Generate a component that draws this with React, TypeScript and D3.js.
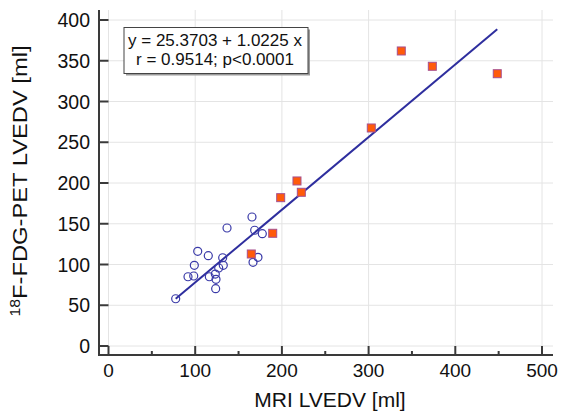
import React from "react";
import * as d3 from "d3";

// Data
const circleX = [77.5, 91.7, 98.3, 99.0, 102.9, 115.1, 116.3, 123.2, 124.0, 123.6, 127.1, 132.4, 131.7, 136.7, 165.5, 168.6, 177.4, 172.4, 166.7];
const circleY = [58.0, 85.0, 85.9, 99.0, 116.2, 110.8, 85.0, 88.3, 81.8, 70.3, 95.7, 99.0, 108.3, 144.8, 158.3, 142.0, 137.8, 108.8, 102.7];
const squareX = [164.7, 189.4, 198.6, 217.4, 222.4, 303.1, 337.7, 373.5, 448.4];
const squareY = [112.9, 138.3, 182.0, 202.5, 188.6, 267.5, 362.0, 343.2, 334.1];
const fitX = [77.5, 448.4];
const fitY = [58.0, 388.6];
const xTicks = [0, 100, 200, 300, 400, 500];
const xMinorTicks = [50, 150, 250, 350, 450];
const yTicks = [0, 50, 100, 150, 200, 250, 300, 350, 400];
const legendLines = ["y = 25.3703 + 1.0225 x", "r = 0.9514; p<0.0001"];
const xTitle = "MRI LVEDV [ml]";
const yTitleSup = "18";
const yTitleMain = "F-FDG-PET LVEDV [ml]";

const W = 561;
const H = 412;
const FONT = "'Liberation Sans', Arial, Helvetica, sans-serif";

export default function App() {
  const x = d3.scaleLinear().domain([0, 500]).range([108.5, 542]);
  const y = d3.scaleLinear().domain([0, 400]).range([346, 20]);
  const axisX = 99; // y axis line position
  const axisY = 355; // x axis line position
  const gridRight = 553;
  const gridTop = 10;
  const axisColor = "#3a3a3a";
  const gridColor = "#e4e4e4";

  const line = d3
    .line<number>()
    .x((d, i) => x(fitX[i]))
    .y((d, i) => y(fitY[i]));

  return (
    <svg
      width={W}
      height={H}
      style={{ position: "absolute", left: 0, top: 0, background: "#fff" }}
      fontFamily={FONT}
    >
      <rect x={0} y={0} width={W} height={H} fill="#fff" />
      {/* grid */}
      {yTicks.map((t) => (
        <line key={"gy" + t} x1={x(0)} x2={gridRight} y1={y(t)} y2={y(t)} stroke={gridColor} strokeWidth={1} />
      ))}
      {xTicks.map((t) => (
        <line key={"gx" + t} x1={x(t)} x2={x(t)} y1={gridTop} y2={y(0)} stroke={gridColor} strokeWidth={1} />
      ))}

      {/* axes */}
      <line x1={axisX} x2={axisX} y1={gridTop} y2={axisY} stroke={axisColor} strokeWidth={2} />
      <line x1={axisX - 1} x2={gridRight} y1={axisY} y2={axisY} stroke={axisColor} strokeWidth={2} />
      {yTicks.map((t) => (
        <g key={"yt" + t}>
          <line x1={axisX} x2={x(0)} y1={y(t)} y2={y(t)} stroke={axisColor} strokeWidth={2} />
          <text x={90} y={y(t)} dy="0.36em" textAnchor="end" fontSize={19.5} fill="#111">
            {t}
          </text>
        </g>
      ))}
      {xTicks.map((t) => (
        <g key={"xt" + t}>
          <line x1={x(t)} x2={x(t)} y1={axisY} y2={y(0)} stroke={axisColor} strokeWidth={2} />
          <text x={x(t)} y={377} textAnchor="middle" fontSize={19} fill="#111">
            {t}
          </text>
        </g>
      ))}
      {xMinorTicks.map((t) => (
        <line key={"xm" + t} x1={x(t)} x2={x(t)} y1={axisY} y2={axisY - 4} stroke={axisColor} strokeWidth={2} />
      ))}

      {/* titles */}
      <text x={330} y={407} textAnchor="middle" fontSize={21} fill="#111">
        {xTitle}
      </text>
      <g transform={`translate(27, 181) rotate(-90) scale(1.13, 1)`}>
        <text x={0} y={0} textAnchor="middle" fontSize={21} fill="#111">
          <tspan fontSize={14} dy={-7}>{yTitleSup}</tspan>
          <tspan dy={7}>{yTitleMain}</tspan>
        </text>
      </g>

      {/* regression line */}
      <path d={line(fitX) || ""} fill="none" stroke="#2e2e9e" strokeWidth={2} />

      {/* circles */}
      {circleX.map((cx, i) => (
        <circle key={"c" + i} cx={x(cx)} cy={y(circleY[i])} r={4} fill="#fff" fillOpacity={0} stroke="#3a3aa8" strokeWidth={1.2} />
      ))}

      {/* squares */}
      {squareX.map((sx, i) => (
        <rect
          key={"s" + i}
          x={x(sx) - 4}
          y={y(squareY[i]) - 4}
          width={8}
          height={8}
          fill="#ff5a0a"
          stroke="#a65090"
          strokeWidth={1}
        />
      ))}

      {/* legend box */}
      <rect x={126} y={29.5} width={184} height={46} fill="#9a9a9a" />
      <rect x={124} y={27.5} width={184} height={46} fill="#fff" stroke="#444" strokeWidth={1} />
      {legendLines.map((l, i) => (
        <text key={"l" + i} x={215} y={46 + i * 19} textAnchor="middle" fontSize={17} fill="#111">
          {l}
        </text>
      ))}
    </svg>
  );
}
